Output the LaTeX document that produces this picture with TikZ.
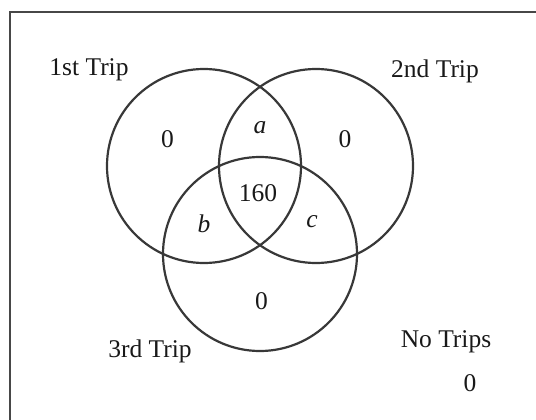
\documentclass[tikz,border=0pt]{standalone}
\usepackage{fontspec}
\setmainfont{Liberation Serif}
\begin{document}
\begin{tikzpicture}[x=1pt,y=-1pt,
  venn/.style={draw=black!78,line width=2.2pt},
  lbl/.style={inner sep=0pt,font=\fontsize{25.5}{30}\selectfont,text=black!90},
  var/.style={lbl,font=\fontsize{25.5}{30}\selectfont\itshape}]
\useasboundingbox (0,0) rectangle (536,420);
\clip (0,0) rectangle (536,420);
\fill[white] (0,0) rectangle (536,420);
\draw[draw=black!72,line width=2.6pt] (10,12) rectangle (560,440);
\node[venn,circle,minimum size=194pt,inner sep=0pt] (c1) at (204,166) {};
\node[venn,circle,minimum size=194pt,inner sep=0pt] (c2) at (316,166) {};
\node[venn,circle,minimum size=194pt,inner sep=0pt] (c3) at (260,254) {};
\node[lbl] (t1) at (89,70) {1st Trip};
\node[lbl] (t2) at (435,71) {2nd Trip};
\node[lbl] (t3) at (150,351) {3rd Trip};
\node[lbl] (t0) at (446,342) {No Trips};
\node[lbl] (z1) at (167.5,139) {0};
\node[lbl] (z2) at (345,139) {0};
\node[lbl] (z3) at (261.5,301) {0};
\node[lbl] (z0) at (470,383) {0};
\node[lbl] (n) at (258,193) {160};
\node[var] (a) at (260,128) {a};
\node[var] (b) at (204,224) {b};
\node[var] (c) at (312,222) {c};
\end{tikzpicture}
\end{document}
